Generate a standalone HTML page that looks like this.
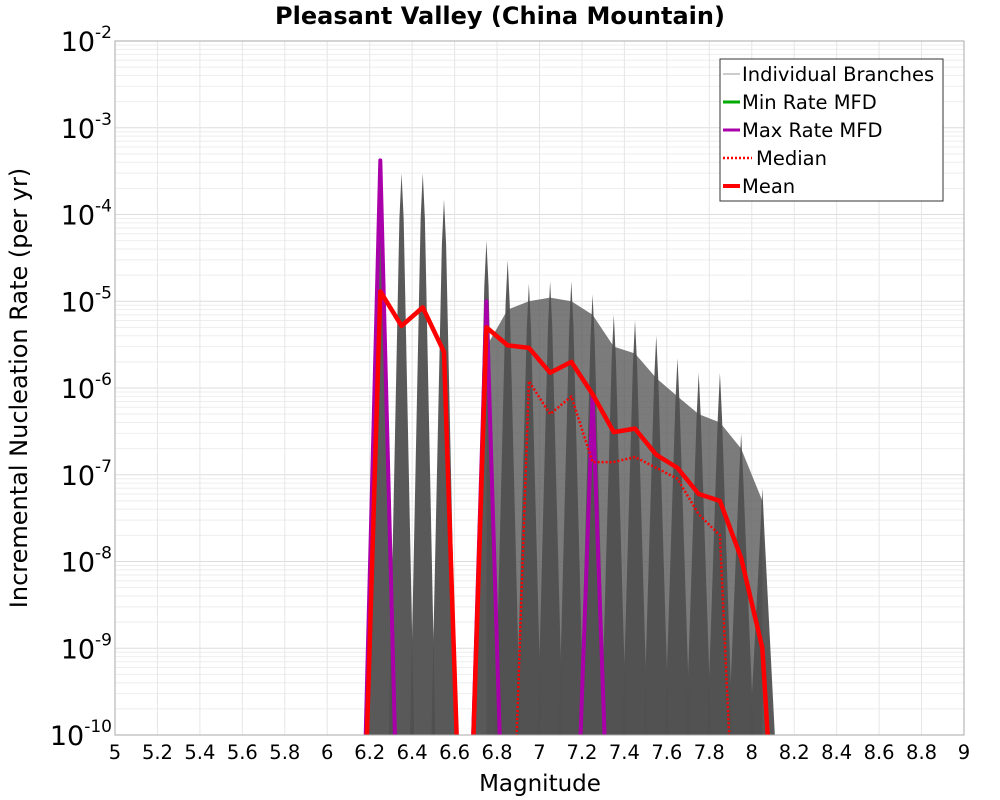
<!DOCTYPE html>
<html><head><meta charset="utf-8"><style>
html,body{margin:0;background:#fff;overflow:hidden;width:1000px;height:800px}
svg{display:block}
svg text{font-family:"DejaVu Sans","Liberation Sans",sans-serif}
</style></head><body>
<svg id="chart" width="1000" height="800" xmlns="http://www.w3.org/2000/svg">
<text x="500" y="24" text-anchor="middle" font-size="24" font-weight="bold">Pleasant Valley (China Mountain)</text>
<text x="540" y="791" text-anchor="middle" font-size="23">Magnitude</text>
<text transform="translate(27,388) rotate(-90)" text-anchor="middle" font-size="24">Incremental Nucleation Rate (per yr)</text>
<defs><clipPath id="pc"><rect x="115" y="41" width="849" height="694"/></clipPath></defs>
<g id="grid"></g>
<g id="marks" clip-path="url(#pc)"></g>
<rect x="115" y="41" width="849" height="694" fill="none" stroke="#aaa"/>
<g id="axes"></g>
<g>
<rect x="720" y="59" width="223" height="142" fill="#fff" stroke="#333"/>
<line x1="723" y1="74" x2="740" y2="74" stroke="#bbb" stroke-width="1.5"/>
<text x="742" y="81" font-size="19.5">Individual Branches</text>
<line x1="723" y1="102" x2="740" y2="102" stroke="#0a0" stroke-width="3"/>
<text x="742" y="109" font-size="19.5">Min Rate MFD</text>
<line x1="723" y1="130" x2="740" y2="130" stroke="#a0a" stroke-width="3"/>
<text x="742" y="137" font-size="19.5">Max Rate MFD</text>
<line x1="723" y1="158" x2="752" y2="158" stroke="#f00" stroke-width="2.5" stroke-dasharray="2,2"/>
<text x="756" y="165" font-size="19.5">Median</text>
<line x1="723" y1="186" x2="740" y2="186" stroke="#f00" stroke-width="4"/>
<text x="742" y="193" font-size="19.5">Mean</text>
</g>
</svg>
<script>
const mags=[6.15,6.25,6.35,6.45,6.55,6.65,6.75,6.85,6.95,7.05,7.15,7.25,7.35,7.45,7.55,7.65,7.75,7.85,7.95,8.05,8.15];
const branchMax=[0,4e-4,3e-4,3e-4,1.5e-4,0,5e-5,3e-5,1.6e-5,1.7e-5,1.7e-5,1.2e-5,7e-6,6e-6,4e-6,2.2e-6,1.5e-6,1.5e-6,3e-7,7e-8,0];
const branchUpper=[0,0,0,0,0,0,3e-6,8e-6,1e-5,1.1e-5,1e-5,7e-6,3e-6,2.5e-6,1.3e-6,8e-7,5e-7,4e-7,2e-7,5e-8,0];
const meanVals=[0,1.3e-5,5.2e-6,8.5e-6,2.6e-6,0,5e-6,3.1e-6,2.9e-6,1.5e-6,2e-6,8.5e-7,3.1e-7,3.4e-7,1.7e-7,1.2e-7,6e-8,5e-8,1.1e-8,1e-9,0];
const medianVals=[0,0,0,0,0,0,0,0,1.2e-6,5e-7,8e-7,1.4e-7,1.4e-7,1.6e-7,1.2e-7,9e-8,3.5e-8,2e-8,0,0,0];
const maxRateVals=[0,4.2e-4,0,0,0,0,1e-5,0,0,0,0,8e-7,0,0,0,0,0,0,0,0,0];
const xTicks=[5,5.2,5.4,5.6,5.8,6,6.2,6.4,6.6,6.8,7,7.2,7.4,7.6,7.8,8,8.2,8.4,8.6,8.8,9];
const yExps=[-2,-3,-4,-5,-6,-7,-8,-9,-10];
const NS="http://www.w3.org/2000/svg";
const X0=115,X1=964,Y0=41,Y1=735;
function xs(m){return X0+(m-5)/4*(X1-X0);}
function ys(v){const l=v>0?Math.log10(v):-13;return Y0+(-2-l)/8*(Y1-Y0);}
function mk(t,a,p){const e=document.createElementNS(NS,t);for(const k in a)e.setAttribute(k,a[k]);p.appendChild(e);return e;}
const grid=document.getElementById('grid'),marks=document.getElementById('marks'),axes=document.getElementById('axes');
for(const e of yExps){
 for(let k=1;k<=9;k++){const v=k*Math.pow(10,e);if(e===-2&&k>1)break;const y=ys(v);
  const ln=mk('line',{x1:X0,x2:X1,y1:y,y2:y,stroke:k===1?'#ddd':'#eee','stroke-width':1},grid);
  
  }
 const t=mk('text',{x:112,y:ys(Math.pow(10,e))+10,'text-anchor':'end','font-size':27},axes);
 
 
 t.innerHTML='10<tspan dy="-13" font-size="17">'+e+'</tspan>';
}
for(const m of xTicks){const x=xs(m);
 const ln=mk('line',{x1:x,x2:x,y1:Y0,y2:Y1,stroke:'#e6e6e6'},grid);
 
 
 const t=mk('text',{x:x,y:759,'text-anchor':'middle','font-size':19.5},axes);
 
 
 t.textContent=String(m);}
let band=[];for(let i=0;i<mags.length;i++)if(branchUpper[i]>0)band.push(xs(mags[i])+','+ys(branchUpper[i]));
const bandPts=band.concat([xs(8.05)+','+Y1,xs(6.75)+','+Y1]);
const bp=mk('polygon',{points:bandPts.join(' '),fill:'#5a5a5a','fill-opacity':0.8},marks);


for(let i=0;i<mags.length;i++){if(!(branchMax[i]>0))continue;const m=mags[i];
 const pts=[xs(m-0.06)+','+(Y1+5),xs(m-0.01)+','+ys(branchMax[i]*0.3),xs(m)+','+ys(branchMax[i]),xs(m+0.01)+','+ys(branchMax[i]*0.3),xs(m+0.06)+','+(Y1+5)];
 const p=mk('polygon',{points:pts.join(' '),fill:'#505050','fill-opacity':0.95},marks);
 
 }
function series(vals,attrs,name){const pts=mags.map((m,i)=>xs(m)+','+ys(vals[i])).join(' ');
 const p=mk('polyline',Object.assign({points:pts,fill:'none','stroke-linejoin':'round'},attrs),marks);
 
 }
series(maxRateVals,{stroke:'#a0a','stroke-width':4},'max-rate-line');
series(medianVals,{stroke:'#f00','stroke-width':2.5,'stroke-dasharray':'2,2'},'median-line');
series(meanVals,{stroke:'#f00','stroke-width':4.5},'mean-line');
</script>
</body></html>
